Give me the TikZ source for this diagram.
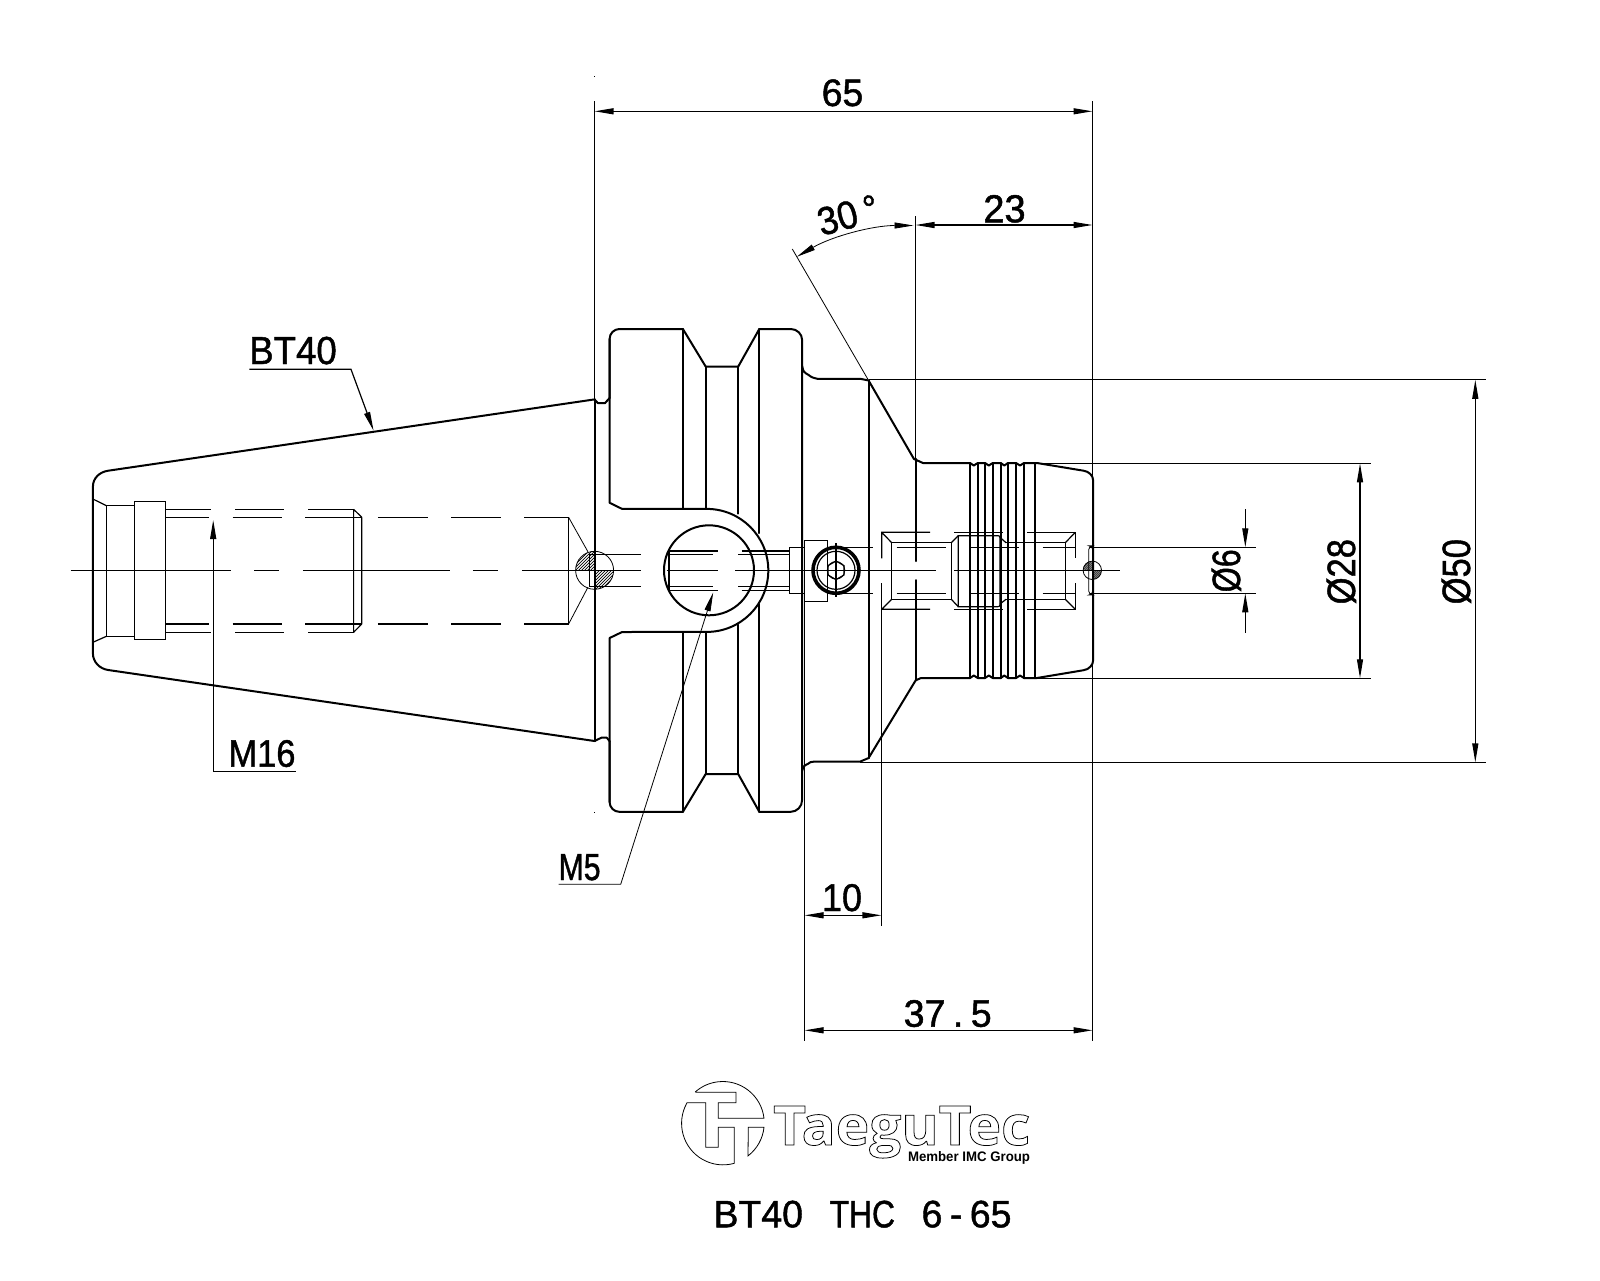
\documentclass[tikz,border=0pt]{standalone}
\usepackage{graphicx}
\usepackage{fontspec}
\setmainfont{Liberation Sans}
\newfontfamily\logofont{Open Sans}
\usetikzlibrary{arrows.meta}
\newlength\pxu \setlength\pxu{0.5pt}
\newcommand{\fit}[3]{\resizebox{#1\pxu}{#2\pxu}{\special{pdf:code q 2 Tr 0.12 w}#3\special{pdf:code Q}}}
\newcommand{\outlinetxt}[1]{\special{pdf:code q 1 Tr 0.14 w}#1\special{pdf:code Q}}
\tikzset{
  ol/.style={line width=1pt,line cap=round,line join=round},
  th/.style={line width=0.6pt},
  hr/.style={line width=0.4pt},
  lbl/.style={inner sep=0pt,outer sep=0pt,anchor=base},
  arr/.style={-{Triangle[length=9.5pt,width=3pt]}},
  arrs/.style={{Triangle[length=9.5pt,width=3pt]}-{Triangle[length=9.5pt,width=3pt]}},
}
\begin{document}
\begin{tikzpicture}[x=0.5pt,y=-0.5pt]
\path[fill=white] (0,0) rectangle (1600,1280);
\useasboundingbox (0,0) rectangle (1600,1280);

% ---------- outline: taper
\draw[ol] (609.6,398) -- (605,403.1) -- (597.9,403.1) -- (594.5,399.4) -- (108.2,470.7)
  .. controls (99.7,471.9) and (92.9,478) .. (92.9,486.7) -- (92.9,653.3)
  .. controls (92.9,662) and (99.7,668.8) .. (108.2,670) -- (594.5,741) -- (601.4,737.7) -- (606.8,737.7) -- (609.6,741.2);
\draw[ol] (594.5,399.4) -- (594.5,741);
% front detail
\draw[th] (92.9,499) -- (106.4,505.7) (92.9,642.3) -- (106.4,636.3);
\draw[th] (106.4,505.7) rectangle (134.3,636.3);
\draw[th] (134.3,501.3) rectangle (165.7,639.3);
% thread dashes
\draw[th] (165.7,509.3) -- (211,509.3) (235,509.3) -- (284,509.3) (308,509.3) -- (353.6,509.3)
          (165.7,517.3) -- (209,517.3) (232.5,517.3) -- (282,517.3) (305,517.3) -- (361.8,517.3)
          (165.7,624) -- (209,624) (232.5,624) -- (282,624) (305,624) -- (361.8,624)
          (165.7,632.3) -- (211,632.3) (235,632.3) -- (284,632.3) (308,632.3) -- (353.6,632.3);
\draw[th] (353.6,509.3) -- (353.6,632.3) (361.8,517.3) -- (361.8,624)
          (353.6,509.3) -- (361.8,517.3) (353.6,632.3) -- (361.8,624);
\draw[th] (377.9,517.3) -- (427.5,517.3) (451,517.3) -- (501,517.3) (524.3,517.3) -- (568.6,517.3)
          (377.9,624) -- (427.5,624) (451,624) -- (501,624) (524.3,624) -- (568.6,624);
\draw[th] (568.6,517.3) -- (568.6,624);
\draw[hr] (568.6,517.3) -- (587.9,551.7) (568.6,624) -- (587.9,587.3);

% centre line
\draw[th] (70.7,570.3) -- (230.7,570.3) (254,570.3) -- (278.6,570.3) (302.9,570.3) -- (450,570.3)
          (472.9,570.3) -- (497.5,570.3) (521.8,570.3) -- (641,570.3) (666.7,570.3) -- (717.5,570.3)
          (735.4,570.3) -- (935.7,570.3) (954,570.3) -- (1120,570.3);

% small ball with hatch
\draw[hr] (594.6,570.3) circle (19);
\begin{scope}[shift={(594.6,570.3)}]
  \begin{scope}
    \clip (0,0) circle (19); \clip (-19,-19) rectangle (0,0);
    \foreach \d in {-40,-37,...,40} \draw[hr] (\d-20,20) -- (\d+20,-20);
  \end{scope}
  \begin{scope}
    \clip (0,0) circle (19); \clip (0,0) rectangle (19,19);
    \foreach \d in {-40,-37,...,40} \draw[hr] (\d-20,20) -- (\d+20,-20);
  \end{scope}
\end{scope}
\draw[th] (589.3,554.3) -- (640.7,554.3) (589.3,586.7) -- (640.7,586.7) (589.3,554.3) -- (589.3,586.7);

% ---------- flange
\draw[ol] (609.6,398) -- (609.6,338.9) .. controls (609.6,333.5) and (614,329) .. (619.5,329) -- (682.9,329)
  -- (705.7,366.6) -- (738.2,366.6) -- (759.3,329) -- (790.7,329)
  .. controls (797,329) and (802.1,334) .. (802.1,339.9) -- (802.1,800)
  .. controls (802.1,806.5) and (797,811.8) .. (790.7,811.8) -- (759.3,811.8) -- (738.2,774) -- (705.7,774)
  -- (682.9,811.8) -- (619.3,811.8) .. controls (614,811.8) and (609.6,807.5) .. (609.6,802) -- (609.6,741.2);
\draw[ol] (609.6,338.9) -- (609.6,502.8) -- (622.1,508.9) -- (706.8,508.9)
  arc[start angle=90,end angle=-90,radius=30.75pt] -- (622.1,632) -- (609.6,638) -- (609.6,802);
\draw[ol] (709,570.3) circle (45);
\draw[ol] (682.9,329) -- (682.9,508.9) (682.9,632) -- (682.9,811.8)
          (705.7,366.6) -- (705.7,508.9) (705.7,632) -- (705.7,774)
          (738.2,366.6) -- (738.2,513.7) (738.2,624.5) -- (738.2,774)
          (759.3,329) -- (759.3,533) (759.3,604) -- (759.3,811.8);
% M5 hole dashes
\draw[th] (669,551) -- (717.7,551) (669,590.7) -- (717.7,590.7)
          (669,554.3) -- (713,554.3) (669,586.7) -- (713,586.7) (669,551) -- (669,590.7)
          (741.7,551) -- (789.3,551) (741.7,590.7) -- (789.3,590.7)
          (738.3,554.3) -- (789.3,554.3) (738.3,586.7) -- (789.3,586.7);
% ---------- nose
\draw[ol] (802.1,365.9) .. controls (803.5,372) .. (808.6,375) .. controls (812,377.5) .. (817.5,378.8)
  -- (860.4,378.8) -- (868.6,380.5) -- (913.9,458.9) -- (922.9,463) -- (970,463)
  -- (973.8,465.5) -- (977.7,463) -- (985,463) -- (988.8,465.5) -- (992.7,463) -- (1000.7,463)
  -- (1004.3,465.5) -- (1008,463) -- (1016,463) -- (1020,465.5) -- (1024,463) -- (1037,463)
  -- (1083.6,470.7) .. controls (1089,471.5) and (1093.2,475.5) .. (1093.2,480.9) -- (1093.2,660)
  .. controls (1093.2,665) and (1089,669.5) .. (1083.6,670.2) -- (1037,678) -- (1024,678) -- (1020,675.5) -- (1016,678)
  -- (1008,678) -- (1004.3,675.5) -- (1000.7,678) -- (992.7,678) -- (988.8,675.5) -- (985,678)
  -- (977.7,678) -- (973.8,675.5) -- (970,678) -- (921,678) -- (915.7,680.3) -- (868.6,758)
  -- (860.4,761.5) -- (815.7,761.5) .. controls (810,762) .. (808,763.8) .. controls (803.5,766) .. (802.1,771);
\draw[ol] (868.6,380.5) -- (868.6,758);
\draw[ol] (916.4,458.9) -- (916.4,561) (916.4,580) -- (916.4,680);
\foreach \gx in {970,977.7,985,992.7,1000.7,1008,1016,1024,1035.4}
  \draw[ol] (\gx,463) -- (\gx,678);

% side block and screw
\draw[th] (789.3,547.3) rectangle (804.3,593.3);
\draw[th] (804.3,540.3) rectangle (827.7,601.3);
\draw[line width=1.8pt] (836,570.3) circle (23);
\draw[th] (836,570.3) circle (19);
\draw[hr] (836,570.3) circle (8.8);
\draw[th] (836,543.3) -- (836,596.7);
\draw[th] (836,561) -- (844,565.6) -- (844,575) -- (836,579.6) -- (828,575) -- (828,565.6) -- cycle;

% collet hidden geometry
\draw[th] (891.7,542.7) rectangle (951.3,599.3);
\draw[th] (881.7,558.3) -- (881.7,532.3) -- (930,532.3) (881.7,532.3) -- (891.7,542.7)
          (881.7,609.3) -- (930,609.3) (881.7,609.3) -- (891.7,599.3);
\draw[th] (951.3,542.7) -- (958.3,535.7) (951.3,599.3) -- (958.3,606.7);
\draw[th] (958.3,535.7) -- (996,535.7) .. controls (1000,535.7) .. (1000,540) -- (1000,602)
   .. controls (1000,606.7) .. (996,606.7) -- (958.3,606.7) -- cycle;
\draw[th] (1000,537.3) -- (1006,542.7) (1000,604) -- (1006,599.3);
\draw[th] (954,532.3) -- (1002.7,532.3) (954,609.3) -- (1002.7,609.3);
\draw[th] (1006,542.7) -- (1065.3,542.7) -- (1065.3,599.3) -- (1006,599.3);
\draw[th] (1027.3,532.3) -- (1075.3,532.3) -- (1075.3,558.3) (1027.3,609.3) -- (1075.3,609.3) -- (1075.3,583.3);
\draw[th] (1065.3,542.7) -- (1075.3,532.3) (1065.3,599.3) -- (1075.3,609.3);
% Oe6 bore lines
\draw[th] (838,547.3) -- (872.7,547.3) (896.7,547.3) -- (946,547.3) (970,547.3) -- (1018.7,547.3)
          (1042.7,547.3) -- (1075,547.3) (1090,547.3) -- (1255.7,547.3)
          (838,593.3) -- (872.7,593.3) (896.7,593.3) -- (946,593.3) (970,593.3) -- (1018.7,593.3)
          (1042.7,593.3) -- (1075,593.3) (1090,593.3) -- (1255.7,593.3);
% end pin
\draw[hr] (1092.3,570.3) circle (9.2);
\draw[hr,rounded corners=2pt] (1088.7,545.7) rectangle (1092.7,595);
\begin{scope}[shift={(1092.3,570.3)}]
  \begin{scope}
    \clip (0,0) circle (9.2); \clip (-10,-10) rectangle (0,0);
    \foreach \d in {-20,-18,...,20} \draw[hr] (\d-10,10) -- (\d+10,-10);
  \end{scope}
  \begin{scope}
    \clip (0,0) circle (9.2); \clip (0,0) rectangle (10,10);
    \foreach \d in {-20,-18,...,20} \draw[hr] (\d-10,10) -- (\d+10,-10);
  \end{scope}
\end{scope}

% ---------- extension lines
\draw[th] (594.5,101.3) -- (594.5,399.4);
\draw[th] (1092.5,101.3) -- (1092.5,1040.7);
\draw[th] (915.5,216) -- (915.5,458.9);
\draw[th] (804.6,601.3) -- (804.6,1040.7);
\draw[th] (881.4,583.3) -- (881.4,926);
\draw[th] (868.6,379.8) -- (1486,379.8) (860.4,762.4) -- (1486,762.4);
\draw[th] (1037,463.3) -- (1370.7,463.3) (1037,678.3) -- (1370.7,678.3);
\draw[hr] (792.3,249) -- (868.6,380.5);
\draw[hr] (594,76.2) -- (594,77) (594,812.2) -- (594,813);

% ---------- dimensions
\draw[th,arrs] (594.5,111.3) -- (1092.5,111.3);
\draw[th,arrs] (915.5,225) -- (1092.5,225);
\draw[hr,arrs] (913.5,225.5) arc[start angle=90,end angle=120,radius=116.75pt];
\draw[th,arrs] (804.6,915.3) -- (881.4,915.3);
\draw[th,arrs] (804.6,1030.3) -- (1092.5,1030.3);
\draw[th,arrs] (1475.3,379.8) -- (1475.3,762.4);
\draw[th,arrs] (1360,463.3) -- (1360,678.3);
\draw[th,arr] (1245.3,509) -- (1245.3,547.3);
\draw[th,arr] (1245.3,632.7) -- (1245.3,593.3);
% leaders
\draw[th,arr] (249.3,369.3) -- (351,369.3) -- (373.6,430.7);
\draw[th,arr] (295.7,771.3) -- (213.2,771.3) -- (213.2,520);
\draw[hr,arr] (558.6,884.3) -- (620.7,884.3) -- (713.2,592.4);

% ---------- labels
\node[lbl] (d65) at (842.5,106) {\fit{41.6}{26.7}{65}};
\node[lbl] (d23) at (1004.5,222.3) {\fit{42.3}{27.3}{23}};
\node[inner sep=0pt,rotate=15] (d30) at (848,215) {\fit{62}{27.5}{30\kern0.2em°}};
\node[lbl] (bt) at (293,364) {\fit{87.5}{27.3}{BT40}};
\node[lbl] (m16) at (262,766.7) {\fit{67}{26.7}{M16}};
\node[lbl] (m5) at (579.6,880) {\fit{42}{26}{M5}};
\node[lbl] (d10) at (842,911) {\fit{40}{27}{10}};
\node[lbl] (d37) at (947.7,1026.7) {\fit{88}{26.7}{37\kern0.2em.\kern0.2em5}};
\node[lbl,rotate=90] (d6) at (1240,570.8) {\fit{43}{28.3}{Ø6}};
\node[lbl,rotate=90] (d28) at (1355,571.7) {\fit{65.3}{28.3}{Ø28}};
\node[lbl,rotate=90] (d50) at (1470,571.7) {\fit{65.3}{28.3}{Ø50}};
\node[lbl] (title) at (862.5,1227.3) {\fit{298}{26.7}{BT40\kern0.71em\scalebox{0.85}[1]{THC}\kern0.71em 6\kern0.2em-\kern0.2em65}};

% ---------- logo
\draw[hr] (695.7,1092.3) -- (736,1092.3) -- (736,1102.7) -- (718.3,1102.7) -- (718.3,1118.3) -- (764,1118.3)
   arc[start angle=6.5,end angle=131.6,radius=20.75pt];
\draw[hr] (686.7,1102.7) -- (705.7,1102.7) -- (705.7,1147.3) -- (718.3,1147.3) -- (718.3,1127.3)
   -- (734.3,1127.3) -- (734.3,1163.3) arc[start angle=-74.3,end angle=-209.2,radius=20.75pt];
\draw[hr] (748.3,1127.3) -- (764,1127.3) arc[start angle=-6,end angle=-52.5,radius=20.75pt] -- cycle;
\node[lbl] (logo) at (901.7,1145) {\resizebox{257\pxu}{39\pxu}{\logofont\bfseries\outlinetxt{TaeguTec}}};
\node[lbl] (member) at (969,1161) {\resizebox{122\pxu}{10\pxu}{\bfseries Member IMC Group}};
\end{tikzpicture}
\end{document}
